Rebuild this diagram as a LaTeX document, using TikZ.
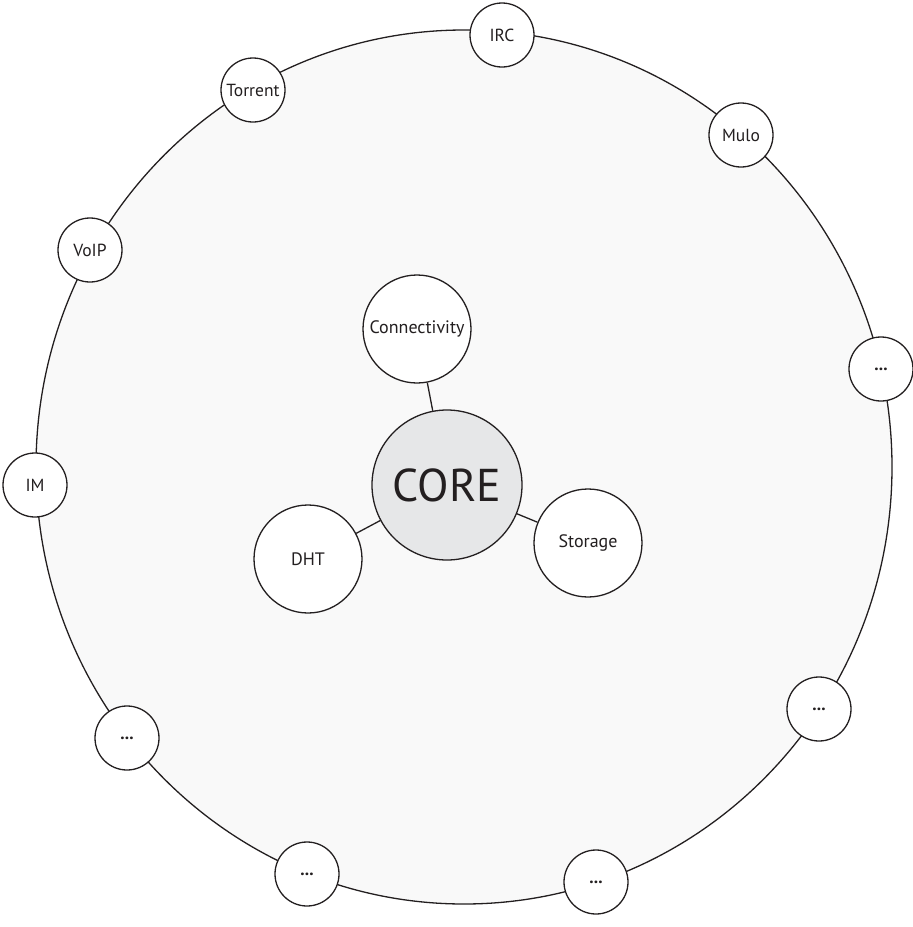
\documentclass[tikz,border=0pt]{standalone}
\usepackage{fontspec}
\setmainfont{PT Sans}
\usetikzlibrary{shapes.geometric}
\definecolor{ringfill}{HTML}{F9F9F9}
\definecolor{corefill}{HTML}{E6E7E8}
\definecolor{ink}{HTML}{231F20}
\tikzstyle{ring} = [ellipse, minimum width=856pt, minimum height=874pt, inner sep=0pt, draw=ink, line width=1.3pt, fill=ringfill]
\tikzstyle{app} = [circle, minimum size=64pt, inner sep=0pt, text=ink, draw=ink, line width=1.3pt, fill=white, font=\fontsize{17.5}{17.5}\selectfont]
\tikzstyle{module} = [circle, minimum size=108pt, inner sep=0pt, text=ink, draw=ink, line width=1.3pt, fill=white, font=\fontsize{18}{18}\selectfont]
\tikzstyle{core} = [circle, minimum size=150pt, inner sep=0pt, text=ink, draw=ink, line width=1.3pt, fill=corefill, font=\fontsize{46}{46}\selectfont]
\tikzstyle{link} = [draw=ink, line width=1.3pt]

\begin{document}
\begin{tikzpicture}[x=1pt, y=-1pt]
\useasboundingbox (0,0) rectangle (913,927);

\node (ring) [ring] at (464,467) {};

\node (irc) [app] at (502,35) {IRC};
\node (torrent) [app] at (253,90) {Torrent};
\node (mulo) [app] at (741,135) {Mulo};
\node (voip) [app] at (90,250) {VoIP};
\node (more1) [app] at (881,369) {\textbf{...}};
\node (im) [app] at (35,485) {IM};
\node (more2) [app] at (819,709) {\textbf{...}};
\node (more3) [app] at (127,738) {\textbf{...}};
\node (more4) [app] at (307,874) {\textbf{...}};
\node (more5) [app] at (596,882) {\textbf{...}};

\node (core) [core] at (447,485) {CORE};
\node (conn) [module] at (417,329) {Connectivity};
\node (dht) [module] at (308,559) {DHT};
\node (storage) [module] at (588,543) {Storage};

\draw [link] (core) -- (conn);
\draw [link] (core) -- (dht);
\draw [link] (core) -- (storage);

\end{tikzpicture}
\end{document}
